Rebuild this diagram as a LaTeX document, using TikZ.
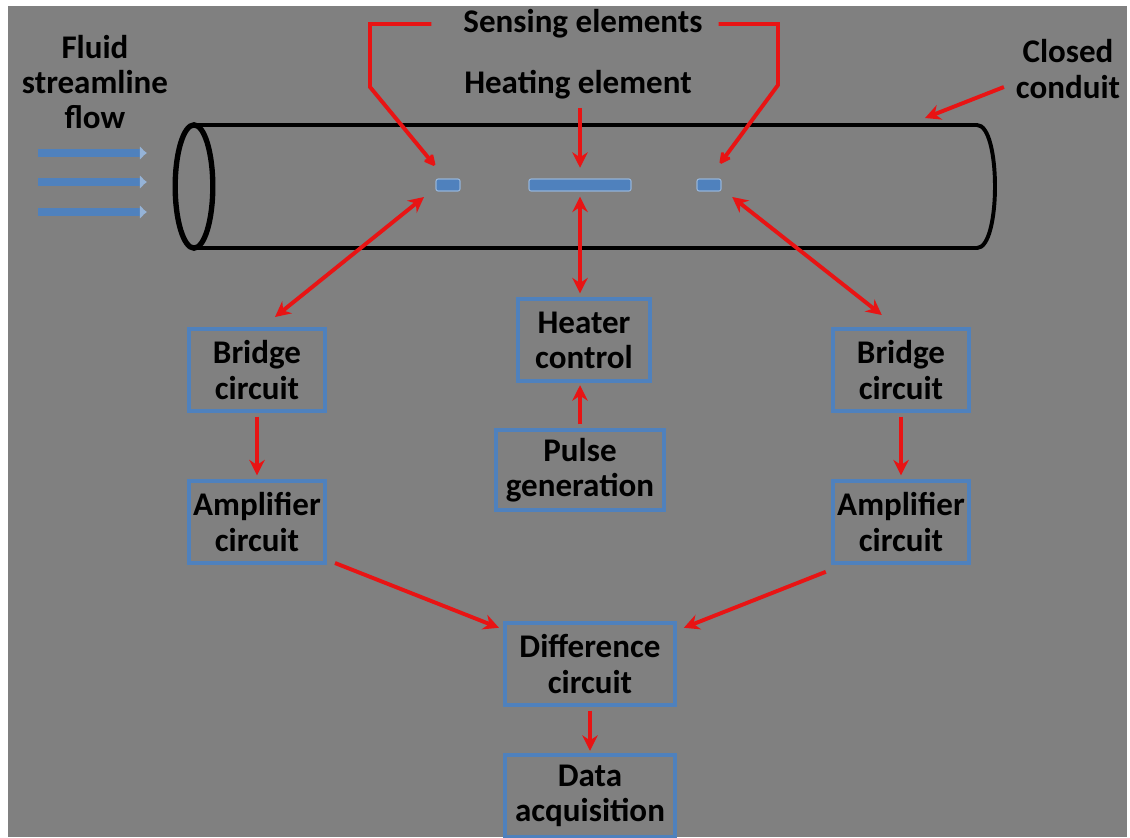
\documentclass[tikz,border=0pt]{standalone}
\usepackage{fontspec}
\setmainfont{Carlito}
\usetikzlibrary{arrows.meta}
\definecolor{bggray}{HTML}{808080}
\definecolor{boxblue}{HTML}{4F81BD}
\definecolor{lightblue}{HTML}{95B3D7}
\definecolor{arrowred}{HTML}{E81414}
\begin{document}
\begin{tikzpicture}[x=0.025cm,y=-0.025cm]
  \tikzset{every node/.style={font=\bfseries\fontsize{23.5}{25}\selectfont, align=center, inner sep=0pt, outer sep=0pt}}
  \tikzset{blk/.style={draw=boxblue, line width=3.5pt, minimum width=3.4cm, minimum height=2.05cm},
    sensor/.style={fill=boxblue, draw=lightblue, line width=0.8pt, rounded corners=1.5pt, minimum width=0.6cm, minimum height=0.3cm},
    redarr/.style={draw=arrowred, line width=2.8pt, -{Stealth[length=11pt,width=11pt]}},
    dblarr/.style={redarr, {Stealth[length=11pt,width=11pt]}-{Stealth[length=11pt,width=11pt]}},
    flowarr/.style={draw=boxblue, line width=5pt, -{Latex[length=5pt,width=10pt,color=lightblue]}},
    pipe/.style={draw=black, line width=2.8pt}}
  \useasboundingbox (0,0) rectangle (1130,837);
  \fill[bggray] (8,6) rectangle (1127,837);

  % the conduit
  \draw[pipe] (194,125) -- (977,125) .. controls (1001,125) and (1001,248) .. (977,248) -- (194,248);
  \draw[pipe, line width=3.8pt] (194,186.5) ellipse [x radius=0.47cm, y radius=1.54cm];
  \foreach \y in {153,182,212} {
    \draw[flowarr] (38,\y) -- (147,\y);
  }

  % labels
  \node (flowlbl) at (95,82) {\fontsize{23.5}{21}\selectfont Fluid\\streamline\\flow};
  \node (senslbl) at (583,24) {Sensing elements};
  \node (heatlbl) at (578,85) {Heating element};
  \node (condlbl) at (1068,69) {\fontsize{23.5}{27}\selectfont Closed\\conduit};

  % elements in the pipe
  \node[sensor] (senL) at (448,185) {};
  \node[sensor, minimum width=2.55cm] (heat) at (580,185) {};
  \node[sensor] (senR) at (709,185) {};

  % blocks
  \node[blk] (bridgeL) at (257,370) {Bridge\\circuit};
  \node[blk] (ampL) at (257,522) {Amplifier\\circuit};
  \node[blk] (bridgeR) at (901,370) {Bridge\\circuit};
  \node[blk] (ampR) at (901,522) {Amplifier\\circuit};
  \node[blk, minimum width=3.3cm] (heater) at (584,340) {Heater\\control};
  \node[blk, minimum width=4.2cm, minimum height=2cm] (pulse) at (580,470) {Pulse\\generation};
  \node[blk, minimum width=4.25cm] (diff) at (590,664) {Difference\\circuit};
  \node[blk, minimum width=4.25cm] (data) at (590,796) {Data\\acquisition};

  \coordinate (bl1) at (370,24);
  \coordinate (bl2) at (370,87);
  \coordinate (br1) at (778,24);
  \coordinate (br2) at (778,85);

  % connectors
  \draw[redarr, miter limit=2] ([xshift=-0.8cm]senslbl.west) -- (bl1) -- (bl2) -- ([yshift=0.3cm]senL.north west);
  \draw[redarr, miter limit=2] ([xshift=0.4cm]senslbl.east) -- (br1) -- (br2) -- ([xshift=-0.05cm,yshift=0.35cm]senR.north east);
  \draw[redarr, shorten <=6pt, shorten >=8pt] (heatlbl.south -| heat.north) -- (heat.north);
  \draw[redarr] ([xshift=-0.3cm,yshift=-0.45cm]condlbl.west) -- (925,118);
  \draw[dblarr] ([xshift=-0.3cm,yshift=-0.15cm]senL.south west) -- ([xshift=0.45cm,yshift=0.3cm]bridgeL.north);
  \draw[dblarr] ([xshift=0.28cm,yshift=-0.15cm]senR.south east) -- ([xshift=-0.48cm,yshift=0.35cm]bridgeR.north);
  \draw[dblarr, shorten <=4pt, shorten >=4pt] (heat.south) -- (heat.south |- heater.north);
  \draw[redarr, shorten <=4pt, shorten >=3pt] (pulse.north) -- (pulse.north |- heater.south);
  \draw[redarr, shorten <=4pt, shorten >=4pt] (bridgeL) -- (ampL);
  \draw[redarr, shorten <=4pt, shorten >=4pt] (bridgeR) -- (ampR);
  \draw[redarr] ([xshift=0.25cm]ampL.south east) -- ([xshift=-0.15cm,yshift=-0.12cm]diff.north west);
  \draw[redarr] ([xshift=-0.18cm,yshift=-0.22cm]ampR.south west) -- ([xshift=0.22cm,yshift=-0.12cm]diff.north east);
  \draw[redarr, shorten <=4pt, shorten >=3pt] (diff) -- (data);
\end{tikzpicture}
\end{document}
